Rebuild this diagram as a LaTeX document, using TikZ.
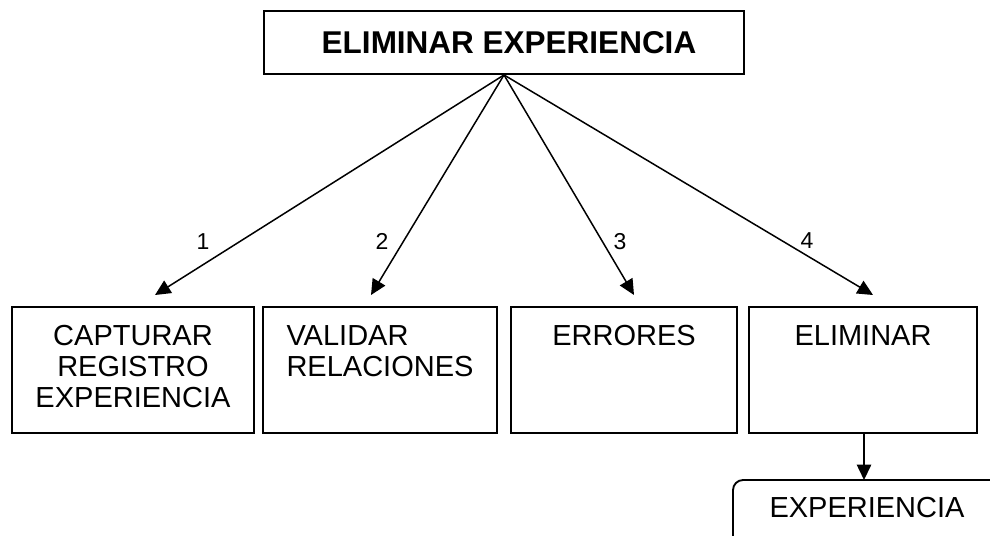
\documentclass[tikz,border=0pt]{standalone}
\usepackage{fontspec}
\setmainfont{Liberation Sans}
\usetikzlibrary{arrows.meta}
\tikzset{
  modbox/.style={draw, line width=0.75pt, minimum height=50.4pt, inner sep=0pt},
  boxtext/.style={below, align=center, inner sep=0pt, yshift=-7.4pt, font=\fontsize{11.6}{12.5}\selectfont},
  arr/.style={-{Triangle[length=6.2pt,width=5.8pt]}, line width=0.6pt},
  num/.style={font=\fontsize{9.2}{10}\selectfont}
}
\begin{document}
\begin{tikzpicture}[x=0.4pt,y=-0.4pt]
\useasboundingbox (0,0) rectangle (990,535);
% main module
\node[draw, line width=0.75pt, minimum width=192pt, minimum height=25.2pt, inner sep=0pt,
  label={[font=\bfseries\fontsize{12.6}{14}\selectfont, xshift=2pt]center:ELIMINAR EXPERIENCIA}] (modulo) at (504,42.5) {};
% sub modules
\node[modbox, minimum width=96.8pt, label={[boxtext]north:CAPTURAR\\REGISTRO\\EXPERIENCIA}] (capt) at (133,370) {};
\node[modbox, minimum width=93.6pt, label={[boxtext, align=left]north:VALIDAR\\RELACIONES}] (valid) at (380,370) {};
\node[modbox, minimum width=90.4pt, label={[boxtext]north:ERRORES}] (err) at (624,370) {};
\node[modbox, minimum width=91.2pt, label={[boxtext]north:ELIMINAR}] (elim) at (863,370) {};
% arrow ends
\coordinate (tip1) at (155,295);
\coordinate (tip2) at (371,295);
\coordinate (tip3) at (634,295);
\coordinate (tip4) at (873,295);
\draw[arr] (modulo.south) -- (tip1);
\draw[arr] (modulo.south) -- (tip2);
\draw[arr] (modulo.south) -- (tip3);
\draw[arr] (modulo.south) -- (tip4);
\node[num] (n1) at (203,242) {1};
\node[num] (n2) at (382,241) {2};
\node[num] (n3) at (620,242) {3};
\node[num] (n4) at (807,241) {4};
% data store
\draw[line width=0.75pt, rounded corners=4pt] (733,540) -- (733,480) -- (995,480);
\node[font=\fontsize{11.6}{12.5}\selectfont] (exp) at (867,507) {EXPERIENCIA};
\coordinate (store) at (864,480);
\draw[arr] (elim.south -| store) -- (store);
\end{tikzpicture}
\end{document}
